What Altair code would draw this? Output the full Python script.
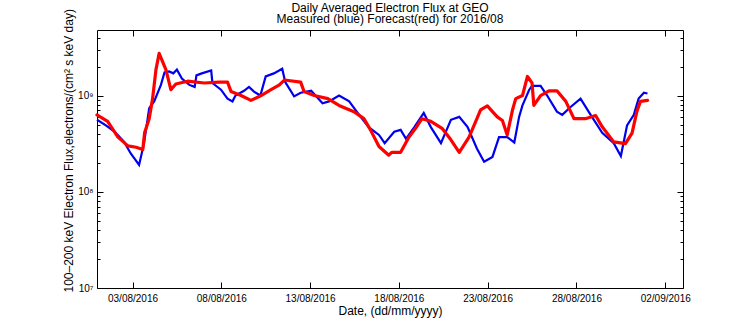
import altair as alt
import pandas as pd

# ---------------- text ----------------
title_lines = ["Daily Averaged Electron Flux at GEO",
               "Measured (blue) Forecast(red) for 2016/08"]
x_title = "Date, (dd/mm/yyyy)"
y_title = "100\u2013200 keV Electron Flux,electrons/(cm\u00b2 s keV day)"

# ---------------- data (days after 2016-08-01 00:00, flux) ----------------
blue_day = [0.0, 0.5, 1.0, 1.53, 1.9, 2.37, 2.65, 2.94, 3.22, 3.6,
            3.8, 4.06, 4.3, 4.5, 4.78, 5.2, 5.5, 5.6, 5.9, 6.43,
            6.5, 6.98, 7.35, 7.63, 7.8, 8.28, 8.56, 8.84, 9.2, 9.5,
            9.96, 10.43, 10.6, 11.1, 11.47, 12.06, 12.7, 13.07, 13.63, 14.2,
            14.76, 15.3, 15.88, 16.2, 16.74, 17.1, 17.4, 17.87, 18.4, 18.8,
            19.37, 19.93, 20.4, 20.87, 21.4, 21.8, 22.27, 22.64, 23.1, 23.5,
            23.77, 23.96, 24.34, 24.5, 24.98, 25.35, 25.9, 26.2, 26.67, 27.23,
            27.8, 28.45, 29.1, 29.5, 29.85, 30.23, 30.5, 30.8, 31.0]
blue_flux = [5.6e8, 4.9e8, 4.2e8, 3.3e8, 2.5e8, 1.9e8, 3.2e8, 7.4e8, 8.7e8, 1.29e9,
             1.74e9, 1.78e9, 1.7e9, 1.86e9, 1.5e9, 1.29e9, 1.23e9, 1.62e9, 1.7e9, 1.82e9,
             1.35e9, 1.15e9, 9.3e8, 8.7e8, 1.0e9, 1.12e9, 1.23e9, 1.1e9, 1.0e9, 1.58e9,
             1.7e9, 1.9e9, 1.38e9, 9.8e8, 1.07e9, 1.12e9, 8.3e8, 8.7e8, 1.0e9, 8.7e8,
             6.3e8, 4.7e8, 3.9e8, 3.2e8, 4.2e8, 4.4e8, 3.55e8, 4.7e8, 6.6e8, 4.7e8,
             3.2e8, 5.6e8, 6.0e8, 4.7e8, 2.8e8, 2.05e8, 2.3e8, 3.7e8, 3.7e8, 3.25e8,
             6.0e8, 7.9e8, 1.15e9, 1.26e9, 1.26e9, 1.0e9, 6.8e8, 6.3e8, 7.6e8, 9.3e8,
             6.3e8, 4.1e8, 3.2e8, 2.35e8, 4.9e8, 6.3e8, 9.3e8, 1.07e9, 1.05e9]

red_day = [0.0, 0.6, 1.18, 1.74, 2.2, 2.58, 2.68, 2.94, 3.13, 3.32,
           3.5, 3.88, 4.16, 4.44, 5.1, 6.03, 6.88, 7.35, 7.55, 8.11,
           8.67, 9.24, 9.8, 10.27, 10.55, 11.47, 11.66, 12.23, 13.0, 13.63,
           14.47, 15.03, 15.4, 15.88, 16.43, 16.6, 17.1, 17.57, 17.94, 18.3,
           18.8, 19.43, 19.93, 20.4, 20.95, 21.33, 21.6, 21.98, 22.54, 22.83,
           23.1, 23.4, 23.58, 23.96, 24.24, 24.5, 24.6, 24.98, 25.45, 25.9,
           26.4, 26.86, 27.5, 28.08, 28.45, 29.1, 29.76, 30.13, 30.4, 30.6,
           31.0]
red_flux = [6.3e8, 5.4e8, 3.7e8, 3.0e8, 2.9e8, 2.75e8, 4.1e8, 5.75e8, 9.3e8, 1.86e9,
            2.75e9, 1.86e9, 1.15e9, 1.32e9, 1.41e9, 1.35e9, 1.38e9, 1.38e9, 1.1e9, 1.0e9,
            8.9e8, 1.0e9, 1.15e9, 1.29e9, 1.45e9, 1.38e9, 1.1e9, 1.0e9, 9.3e8, 7.9e8,
            6.8e8, 5.75e8, 4.4e8, 2.95e8, 2.4e8, 2.57e8, 2.57e8, 3.7e8, 4.57e8, 5.75e8,
            5.4e8, 4.57e8, 3.47e8, 2.57e8, 3.7e8, 5.4e8, 7.1e8, 7.8e8, 6.0e8, 5.5e8,
            3.9e8, 7.1e8, 9.3e8, 1.0e9, 1.58e9, 1.35e9, 7.9e8, 1.0e9, 1.12e9, 1.12e9,
            8.7e8, 5.75e8, 5.75e8, 6.2e8, 4.73e8, 3.3e8, 3.16e8, 4.07e8, 6.8e8, 8.7e8,
            8.9e8]

# ---------------- axes ----------------
x_tick_days = [(2016, 8, 3), (2016, 8, 8), (2016, 8, 13), (2016, 8, 18),
               (2016, 8, 23), (2016, 8, 28), (2016, 9, 2)]
x_domain_days = [(2016, 8, 1), (2016, 9, 3)]
y_major = [1e7, 1e8, 1e9]
y_major_labels = ["10\u2077", "10\u2078", "10\u2079"]
y_minor = [2e7, 3e7, 4e7, 5e7, 6e7, 7e7, 8e7, 9e7,
           2e8, 3e8, 4e8, 5e8, 6e8, 7e8, 8e8, 9e8,
           2e9, 3e9, 4e9]
y_domain = [1e7, 4.8e9]

start = pd.Timestamp("2016-08-01")


def to_time(days):
    return [(start + pd.Timedelta(days=d)).strftime("%Y-%m-%dT%H:%M:%S") for d in days]


blue_df = pd.DataFrame({"date": to_time(blue_day), "flux": blue_flux})
red_df = pd.DataFrame({"date": to_time(red_day), "flux": red_flux})

FONT = "Liberation Sans"
x_vals = [alt.DateTime(year=y, month=m, date=d) for (y, m, d) in x_tick_days]
x_scale = alt.Scale(domain=[alt.DateTime(year=y, month=m, date=d) for (y, m, d) in x_domain_days],
                    nice=False)
y_scale = alt.Scale(type="log", domain=y_domain, nice=False)

major_test = " || ".join(f"datum.value == {v:.0f}" for v in y_major)
label_expr = " : ".join(f"datum.value == {v:.0f} ? '{t}'" for v, t in zip(y_major, y_major_labels)) + " : ''"
y_dash = {"condition": {"test": major_test, "value": [6, 3000]}, "value": [3, 3000]}
y_values = sorted(y_major + y_minor)

bottom_axis = alt.Axis(orient="bottom", values=x_vals, format="%d/%m/%Y", title=x_title,
                       grid=True, gridDash=[6, 3000], labelFontSize=10, labelPadding=5,
                       labelFlush=False, titleFontSize=12, titleFontWeight="normal",
                       titleY=26, titleBaseline="alphabetic")
top_axis = alt.Axis(orient="top", values=x_vals, labels=False, title=None,
                    grid=True, gridDash=[6, 3000])
left_axis = alt.Axis(orient="left", values=y_values, labelExpr=label_expr, labelOverlap=False,
                     labelFontSize=10, labelPadding=4, labelBaseline="middle",
                     grid=True, gridDash=y_dash, title=y_title,
                     titleFontSize=12, titleFontWeight="normal", titleAngle=270,
                     titleAlign="left", titleBaseline="bottom", titleX=-22, titleY=262)
right_axis = alt.Axis(orient="right", values=y_values, labels=False, title=None,
                      grid=True, gridDash=y_dash)

blue = alt.Chart(blue_df).mark_line(color="#0000ee", strokeWidth=2.2).encode(
    x=alt.X("date:T", scale=x_scale, axis=bottom_axis),
    y=alt.Y("flux:Q", scale=y_scale, axis=left_axis),
)
red = alt.Chart(red_df).mark_line(color="#ff0000", strokeWidth=3.2, strokeCap="round",
                                  strokeJoin="round").encode(
    x=alt.X("date:T", scale=x_scale, axis=top_axis),
    y=alt.Y("flux:Q", scale=y_scale, axis=right_axis),
)

chart = alt.layer(blue, red).properties(
    width=586, height=258,
    title=alt.TitleParams(text=title_lines, fontSize=12, font=FONT, fontWeight="normal",
                          color="black", lineHeight=11, anchor="middle", frame="group",
                          offset=5, dy=22),
    autosize=alt.AutoSizeParams(type="none"),
    padding={"left": 97, "top": 30, "right": 73, "bottom": 36},
).configure(background="white").configure_view(
    stroke="black", strokeWidth=1
).configure_axis(
    labelFont=FONT, titleFont=FONT, labelColor="black", titleColor="black",
    gridColor="black", gridOpacity=1, gridWidth=1, domain=False, ticks=False, tickSize=0,
)

chart.save("out.html", embed_options={"renderer": "svg", "actions": False})
